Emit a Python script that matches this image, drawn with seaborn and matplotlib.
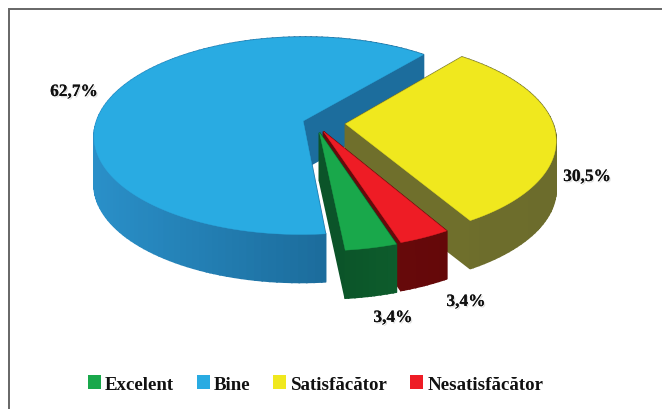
import seaborn as sns
import numpy as np
import matplotlib.pyplot as plt
from matplotlib.patches import Polygon, Patch
from matplotlib.transforms import Affine2D
from matplotlib.colors import to_rgb
import matplotlib.patheffects as pe

# Data
categories = ['Excelent', 'Bine', 'Satisfăcător', 'Nesatisfăcător']
values = [3.4, 62.7, 30.5, 3.4]
value_labels = ['3,4%', '62,7%', '30,5%', '3,4%']

sns.set_theme(style='white')
plt.rcParams['font.family'] = ['Liberation Serif', 'DejaVu Sans']

top_colors = sns.color_palette(['#19a84b', '#29abe2', '#f0e81e', '#ee1c25'])
side_left = ['#0b5228', '#2a90c9', '#70702c', '#6a0a0c']
side_right = ['#0d5c2c', '#1c6d9d', '#6c6c2c', '#640809']

# pie geometry, projected to look like the tilted 3D pie
explode = [0.105, 0.06, 0.148, 0.10]
cx, cy, rx, ry, k, depth = 315, 123.7, 207, 97, 0.15, 48


def project(xy):
    w = 1 + k * xy[:, 1]
    return np.column_stack([cx + rx * xy[:, 0] / w, cy - ry * xy[:, 1] / w])


fig = plt.figure(figsize=(6.62, 4.10), dpi=100)
ax = fig.add_axes([0, 0, 1, 1])
wedges, _ = ax.pie(values, explode=explode, startangle=-72, counterclock=False)

outlines = []
for wedge in wedges:
    poly = wedge.get_path().to_polygons(transform=Affine2D().scale(1000))[0] / 1000
    outlines.append(project(poly))
    wedge.remove()

ax.set_aspect('auto')
ax.set_xlim(0, 662)
ax.set_ylim(410, 0)
ax.axis('off')

# back to front: blue, yellow, red, green
for i in [1, 2, 3, 0]:
    pts = outlines[i]
    c0, c1 = np.array(to_rgb(side_left[i])), np.array(to_rgb(side_right[i]))
    x0, x1 = pts[:, 0].min(), pts[:, 0].max()
    segs = sorted(zip(pts[:-1], pts[1:]), key=lambda s: s[0][1] + s[1][1])
    for a, b in segs:
        t = np.clip(((a[0] + b[0]) / 2 - x0) / max(x1 - x0, 1), 0, 1)
        if i == 1:
            t = np.clip(((a[0] + b[0]) / 2 - 92) / 228, 0, 1)
        col = c0 + (c1 - c0) * t
        quad = [a, b, b + [0, depth], a + [0, depth]]
        ax.add_patch(Polygon(quad, closed=True, facecolor=col, edgecolor=col, lw=1.2))
    ax.add_patch(Polygon(pts, closed=True, facecolor=top_colors[i], edgecolor=top_colors[i], lw=0.3))

# value labels
label_pos = [(393, 319), (74, 93), (587, 178), (466, 303)]
for lab, (px, py) in zip(value_labels, label_pos):
    ax.text(px, py, lab, ha='center', va='center', fontsize=12.5, fontweight='bold', color='#111111',
            path_effects=[pe.withSimplePatchShadow(offset=(1, -1), alpha=0.12), pe.Normal()])

# frame: only top and left lines, running off the picture
ax.plot([9, 9, 662], [410, 10, 10], color='#666666', lw=1.4, solid_joinstyle='miter')

handles = [Patch(facecolor=c, edgecolor='none', label=n) for c, n in zip(top_colors, categories)]
ax.legend(handles=handles, ncol=4, loc='center', bbox_to_anchor=(315.5 / 662, 1 - 385 / 410), frameon=False,
          prop={'size': 13.6, 'weight': 'bold'}, handlelength=0.7, handleheight=0.7,
          handletextpad=0.21, columnspacing=1.2, labelcolor='#111111')

fig.savefig('out.png', dpi=100)
